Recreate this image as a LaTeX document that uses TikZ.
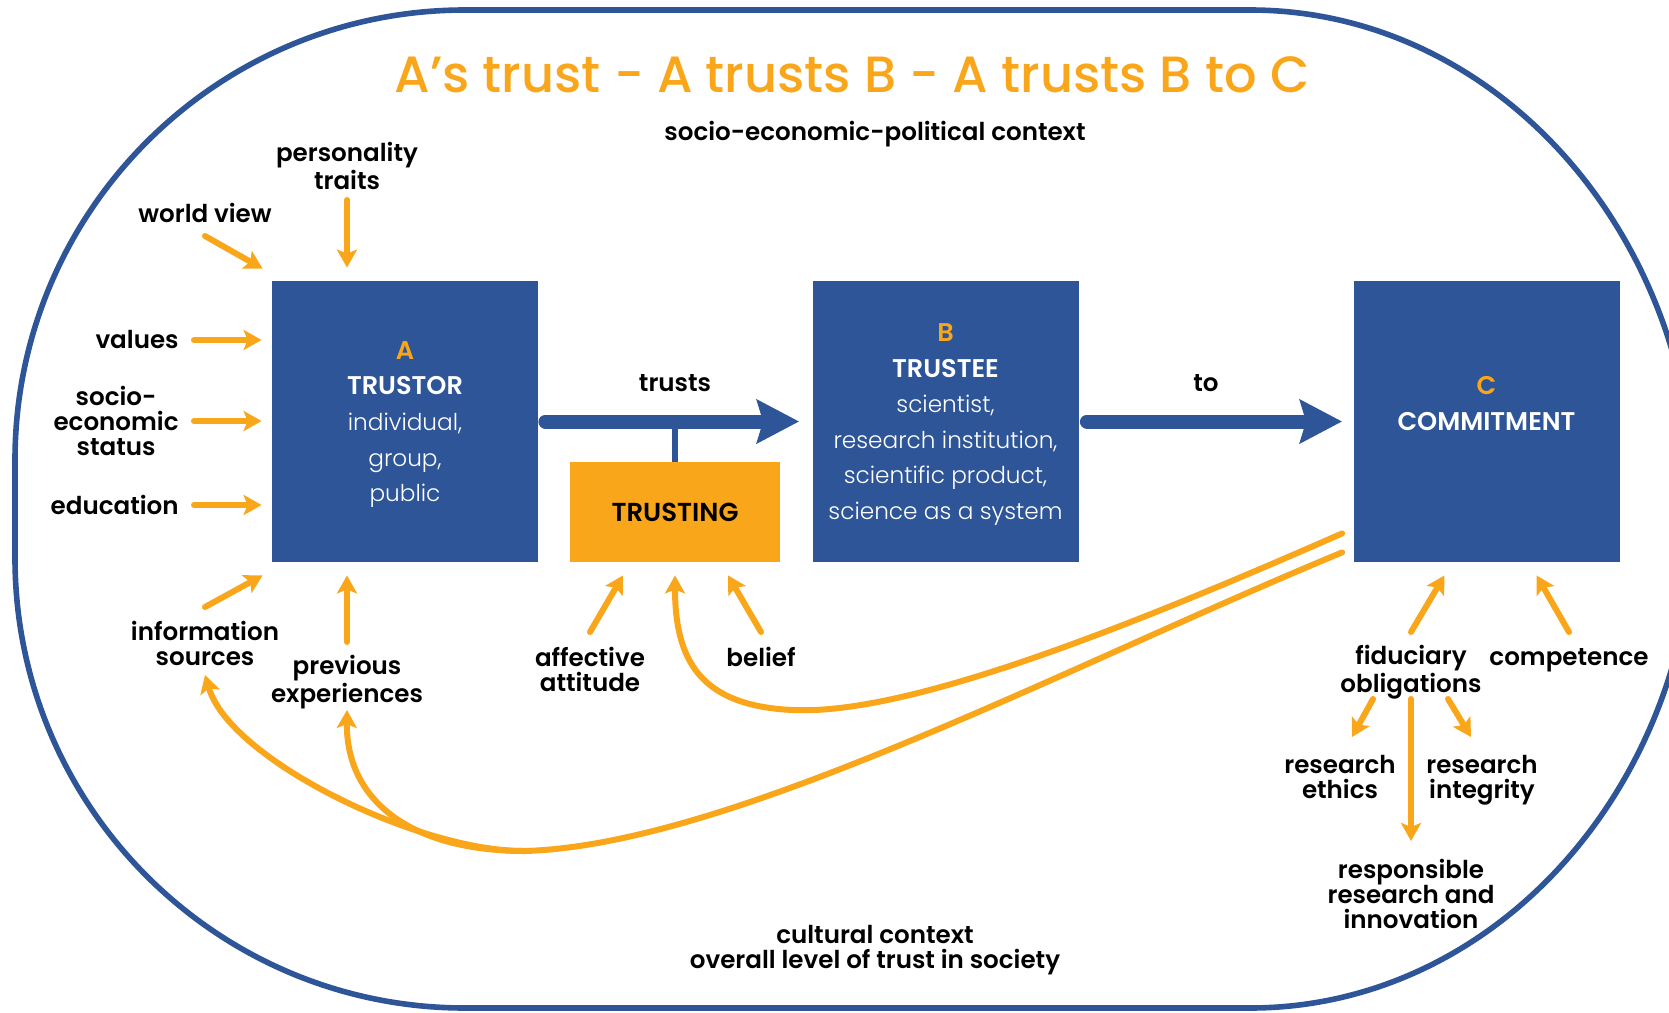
\documentclass[tikz,border=0pt]{standalone}
\usepackage{fontspec}
\setmainfont{Poppins Light}[BoldFont=Poppins SemiBold]
\newfontfamily\titlefont{Poppins Medium}
\usetikzlibrary{arrows.meta,calc}
\definecolor{trustblue}{RGB}{46,85,151}
\definecolor{trustorange}{RGB}{250,166,26}

\begin{document}
\begin{tikzpicture}[x=0.5pt, y=-0.5pt,
    party/.style = {fill=trustblue, minimum width=133pt, minimum height=140.5pt,
      inner sep=0pt, align=center, text=white,
      font=\fontsize{11.6}{17.8}\selectfont},
    trustingbox/.style = {fill=trustorange, minimum width=105pt, minimum height=50pt,
      inner sep=0pt, font=\bfseries\fontsize{13}{14}\selectfont},
    factor/.style = {align=center, inner sep=0pt,
      font=\bfseries\fontsize{12.3}{12.5}\selectfont},
    feed/.style = {draw=trustorange, line width=3pt, line cap=round,
      -{Stealth[length=9pt, width=10pt, inset=2pt]}},
    relation/.style = {draw=trustblue, line width=7pt, line cap=round,
      -{Stealth[length=21pt, width=21.5pt, inset=3pt]}}]
  \clip (0,0) rectangle (1669,1012);
  \draw[trustblue, line width=2.8pt] (465,10) -- (1250,10)
    .. controls (1495.8,10) and (1695,233.4) .. (1695,509)
    .. controls (1695,784.6) and (1495.8,1008) .. (1250,1008) -- (465,1008)
    .. controls (216.5,1008) and (15,806.5) .. (15,558) -- (15,460)
    .. controls (15,211.5) and (216.5,10) .. (465,10) -- cycle;

  \node[text=trustorange, font=\titlefont\fontsize{25.5}{30}\selectfont] (title) at (852,75)
    {A’s trust - A trusts B - A trusts B to C};
  \node[factor] (society) at (875,134) {socio-economic-political context};
  \node[factor] (culture) at (875,950) {cultural context\\overall level of trust in society};

  \node[party] (A) at (405,421.5) {\rule{0pt}{12pt}{\color{trustorange}\bfseries\fontsize{12.8}{17.8}\selectfont A}\\{\bfseries\fontsize{12.8}{17.8}\selectfont TRUSTOR}\\individual,\\group,\\public};
  \node[party] (B) at (945.5,421.5) {\rule{0pt}{12pt}{\color{trustorange}\bfseries\fontsize{12.8}{17.8}\selectfont B}\\{\bfseries\fontsize{12.8}{17.8}\selectfont TRUSTEE}\\scientist,\\research institution,\\scientific product,\\science as a system};
  \node[party] (C) at (1486.5,421.5) {{\color{trustorange}\bfseries\fontsize{12.8}{17.8}\selectfont C}\\{\bfseries\fontsize{12.8}{17.8}\selectfont COMMITMENT}\\\mbox{}};
  \node[trustingbox] (trusting) at (675,512) {TRUSTING};

  \node[factor] (trusts) at (675,383) {trusts};
  \node[factor] (to) at (1206,383) {to};
  \draw[trustblue, line width=3pt] (trusting.north) -- (trusting.north |- A.east);
  \draw[relation] ([xshift=3.5pt]A.east) -- ([xshift=-6.5pt]B.west);
  \draw[relation] ([xshift=4pt]B.east) -- ([xshift=-5.5pt]C.west);

  \node[factor] (traits) at (347,166) {personality\\traits};
  \node[factor] (world) at (205,213) {world view};
  \node[factor, anchor=east] (values) at (179,340) {values};
  \node[factor, anchor=east] (status) at (179,421) {socio-\\economic\\status};
  \node[factor, anchor=east] (education) at (179,505) {education};
  \node[factor] (info) at (205,643) {information\\sources};
  \node[factor] (previous) at (347,682) {previous\\experiences};
  \node[factor] (affect) at (590,669) {affective\\attitude};
  \node[factor] (belief) at (761,657) {belief};
  \node[factor] (fiduciary) at (1411,672) {fiduciary\\obligations};
  \node[factor] (competence) at (1569,660) {competence};
  \node[factor] (ethics) at (1340,777) {research\\ethics};
  \node[factor] (integrity) at (1482,780) {research\\integrity};
  \node[factor] (rri) at (1411,894) {responsible\\research and\\innovation};

  \draw[feed] ($(world)+(0,23)$) -- ([shift={(-9,-12)}]A.north west);
  \draw[feed] ($(traits)+(0,34)$) -- ([yshift=6.5pt]traits |- A.north);
  \draw[feed] ([xshift=7.5pt]values.east) -- ([xshift=-5pt]values.east -| A.west);
  \draw[feed] ([xshift=7.5pt]status.east) -- ([xshift=-5pt]status.east -| A.west);
  \draw[feed] ([xshift=7.5pt]education.east) -- ([xshift=-5pt]education.east -| A.west);
  \draw[feed] ($(info)+(0,-36)$) -- ([shift={(-9,13)}]A.south west);
  \draw[feed] ($(previous)+(0,-40)$) -- ([yshift=-6.5pt]previous |- A.south);
  \draw[feed] ($(affect)+(0,-37)$) -- ($(trusting.south)+(-52,13)$);
  \draw[feed] ($(belief)+(0,-25)$) -- ($(trusting.south)+(53,13)$);
  \draw[feed] ($(fiduciary)+(0,-40)$) -- ($(C.south)+(-42,13)$);
  \draw[feed] ($(competence)+(0,-28)$) -- ($(C.south)+(50,13)$);
  \draw[feed] ($(fiduciary)+(-38,27)$) -- ($(ethics)+(12,-40)$);
  \draw[feed] ($(fiduciary)+(37,27)$) -- ($(integrity)+(-11,-43)$);
  \draw[feed] ($(fiduciary)+(0,27)$) -- ($(rri)+(0,-53)$);

  \coordinate (low) at (525,851);
  \draw[feed] ([shift={(-11,-29)}]C.south west) .. controls (1100,640) and (900,715) .. (793,710)
    .. controls (700,706) and (675,660) .. ($(trusting.south)+(0,13)$);
  \draw[feed] ([shift={(-11,-10)}]C.south west) .. controls (1065,667) and (730,845) .. (low)
    .. controls (420,852) and (230,760) .. ($(info)+(0,32)$);
  \draw[feed] (low) .. controls (410,851) and (346,800) .. ($(previous)+(0,28)$);
\end{tikzpicture}
\end{document}
